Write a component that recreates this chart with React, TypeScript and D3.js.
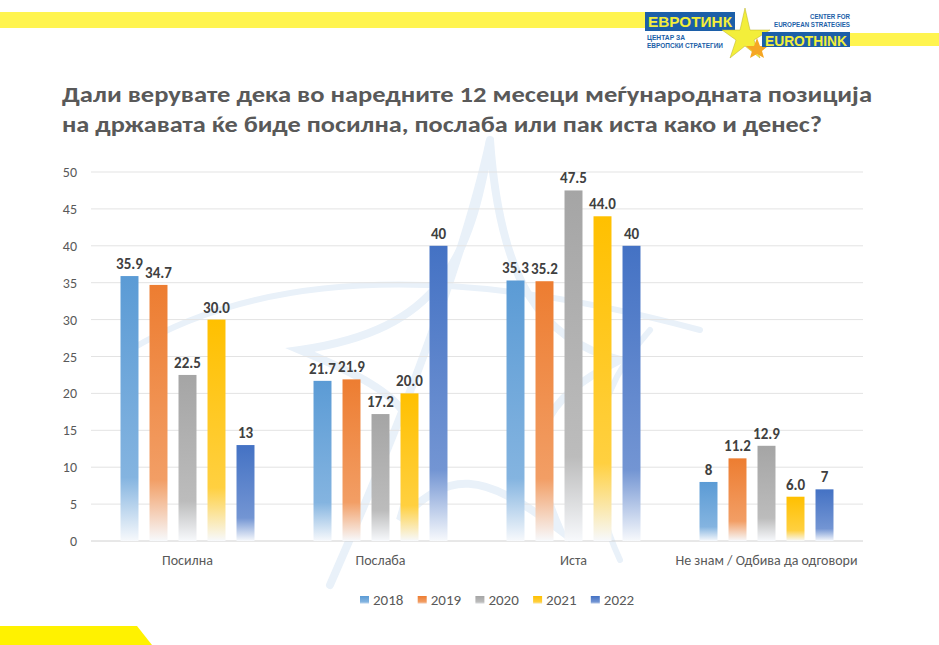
import React from "react";
import * as d3 from "d3";

const categories = ["Посилна", "Послаба", "Иста", "Не знам / Одбива да одговори"];
const years = ["2018", "2019", "2020", "2021", "2022"];
const v2018 = [35.9, 21.7, 35.3, 8];
const v2019 = [34.7, 21.9, 35.2, 11.2];
const v2020 = [22.5, 17.2, 47.5, 12.9];
const v2021 = [30.0, 20.0, 44.0, 6.0];
const v2022 = [13, 40, 40, 7];
const labels2018 = ["35.9", "21.7", "35.3", "8"];
const labels2019 = ["34.7", "21.9", "35.2", "11.2"];
const labels2020 = ["22.5", "17.2", "47.5", "12.9"];
const labels2021 = ["30.0", "20.0", "44.0", "6.0"];
const labels2022 = ["13", "40", "40", "7"];
const yTicks = [0, 5, 10, 15, 20, 25, 30, 35, 40, 45, 50];
const titleLines = [
  "Дали верувате дека во наредните 12 месеци меѓународната позиција",
  "на државата ќе биде посилна, послаба или пак иста како и денес?",
];

const seriesValues = [v2018, v2019, v2020, v2021, v2022];
const seriesLabels = [labels2018, labels2019, labels2020, labels2021, labels2022];
const colors = ["#5b9bd5", "#ed7d31", "#a5a5a5", "#ffc000", "#4472c4"];

export default function App() {
  const W = 939, H = 645;
  const x0 = d3.scaleBand<string>().domain(categories).range([91, 863]);
  const x1 = d3.scaleBand<string>().domain(years).range([0, 145]).paddingInner(0.38).paddingOuter(0.19);
  const y = d3.scaleLinear().domain([0, 50]).range([541, 172]);
  const font = "Calibri, Carlito, 'Open Sans', 'Liberation Sans', sans-serif";
  const logoFont = "'Liberation Sans', sans-serif";

  return (
    <svg width={W} height={H} viewBox={`0 0 ${W} ${H}`} style={{ position: "absolute", left: 0, top: 0, background: "#fff" }} fontFamily={font}>
      <defs>
        {colors.map((c, i) => {
          const light = d3.interpolateRgb(c, "#ffffff")(0.25);
          return (
            <linearGradient key={i} id={`g${i}`} x1="0" y1="0" x2="0" y2="1">
              <stop offset="0" stopColor={c} />
              <stop offset="0.76" stopColor={light} />
              <stop offset="1" stopColor="#f7f9fc" />
            </linearGradient>
          );
        })}
      </defs>
      <rect width={W} height={H} fill="#fff" />
      {/* watermark star */}
      <g fill="none" stroke="#e9f1f9" strokeWidth={8} strokeLinecap="round">
        <path d="M490,140 C470,260 440,330 300,350 C420,400 430,420 400,520 C450,470 480,470 560,530 C520,440 540,400 620,360 C540,340 500,280 490,140 Z" />
        <path d="M490,140 Q455,300 330,585" />
        <path d="M130,350 Q330,230 700,330" strokeWidth={6} />
        <path d="M620,560 Q560,430 650,330" strokeWidth={6} />
      </g>
      {/* header band */}
      <rect x={0} y={12} width={646} height={16} fill="#fff44f" />
      <rect x={850} y={33} width={89} height={13} fill="#fff44f" />
      {/* logo */}
      <g fontFamily={logoFont} fontWeight={700}>
        <rect x={645} y={12} width={90} height={19} fill="#1c5fa8" />
        <text x={648} y={27} fontSize={15} fill="#f3ee3a" textLength={84} lengthAdjust="spacingAndGlyphs">ЕВРОТИНК</text>
        <text x={647} y={40} fontSize={7} fill="#1c5fa8" textLength={38} lengthAdjust="spacingAndGlyphs">ЦЕНТАР ЗА</text>
        <text x={647} y={48} fontSize={7} fill="#1c5fa8" textLength={76} lengthAdjust="spacingAndGlyphs">ЕВРОПСКИ СТРАТЕГИИ</text>
        <path d="M745,8 L750,30 L770,30 L754,40 L760,58 L745,46 L730,58 L736,40 L722,30 L740,30 Z" fill="#f3ee3a" stroke="#b9b12a" strokeWidth={0.5} />
        <path d="M757,38 L760,46 L768,46 L762,51 L764,58 L757,54 L750,58 L752,51 L746,46 L754,46 Z" fill="#f5a623" />
        <rect x={762} y={32} width={88} height={15} fill="#1c5fa8" />
        <text x={765} y={46} fontSize={15} fill="#f3ee3a" textLength={82} lengthAdjust="spacingAndGlyphs">EUROTHINK</text>
        <text x={850} y={19} textAnchor="end" fontSize={7} fill="#1c5fa8" textLength={40} lengthAdjust="spacingAndGlyphs">CENTER FOR</text>
        <text x={850} y={27} textAnchor="end" fontSize={7} fill="#1c5fa8" textLength={76} lengthAdjust="spacingAndGlyphs">EUROPEAN STRATEGIES</text>
      </g>
      {/* bottom-left band */}
      <path d="M0,626 L137,626 L152,645 L0,645 Z" fill="#fff200" />
      {/* title */}
      {titleLines.map((t, i) => (
        <text key={i} x={62} y={102 + i * 30} fontSize={22} fontWeight={700} fill="#595959" textLength={i === 0 ? 810 : 760} lengthAdjust="spacingAndGlyphs">{t}</text>
      ))}
      {/* grid */}
      {yTicks.map((t) => (
        <g key={t}>
          <line x1={91} x2={863} y1={y(t)} y2={y(t)} stroke={t === 0 ? "#d0d0d0" : "#e3e3e3"} strokeWidth={1} />
          <text x={77} y={y(t) + 5} textAnchor="end" fontSize={14} fill="#595959">{t}</text>
        </g>
      ))}
      {/* bars */}
      {categories.map((c, ci) => (
        <g key={c} transform={`translate(${(x0(c) as number) + x0.bandwidth() / 2 - 72.5},0)`}>
          {years.map((yr, si) => {
            const v = seriesValues[si][ci];
            const bx = x1(yr) as number;
            return (
              <g key={yr}>
                <rect x={bx} y={y(v)} width={x1.bandwidth()} height={y(0) - y(v)} fill={`url(#g${si})`} />
                <text x={bx + x1.bandwidth() / 2} y={y(v) - 7} textAnchor="middle" fontSize={15} fontWeight={700} fill="#404040">{seriesLabels[si][ci]}</text>
              </g>
            );
          })}
          <text x={72.5} y={565} textAnchor="middle" fontSize={14} fill="#595959">{c}</text>
        </g>
      ))}
      {/* legend */}
      {years.map((yr, i) => (
        <g key={yr} transform={`translate(${360 + i * 57.7},0)`}>
          <rect x={0} y={596} width={9} height={8} fill={`url(#g${i})`} />
          <text x={13} y={605} fontSize={15} fill="#595959">{yr}</text>
        </g>
      ))}
    </svg>
  );
}
